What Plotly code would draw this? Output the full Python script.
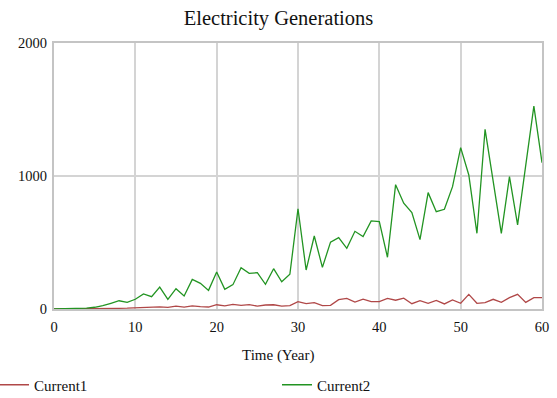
import plotly.graph_objects as go

years = list(range(0, 61))

current1 = [0, 0, 0, 1, 1, 2, 3, 4, 5, 6,
            8, 10, 9, 16, 12, 22, 14, 24, 18, 15,
            32, 24, 35, 28, 33, 22, 30, 32, 22, 26,
            55, 40, 48, 25, 28, 70, 80, 52, 74, 55,
            55, 80, 66, 82, 40, 63, 43, 65, 38, 68,
            43, 110, 43, 48, 73, 50, 85, 110, 50, 85,
            85]

current2 = [0, 1, 2, 4, 7, 13, 25, 43, 62, 50,
            73, 113, 93, 165, 73, 153, 98, 223, 193, 140,
            278, 148, 183, 310, 268, 273, 186, 303, 205, 261,
            754, 293, 549, 313, 503, 536, 456, 584, 544, 662,
            657, 389, 935, 795, 725, 522, 875, 732, 750, 920,
            1213, 1008, 569, 1351, 962, 569, 995, 632, 1080, 1526,
            1100]

x_ticks = [0, 10, 20, 30, 40, 50, 60]
y_ticks = [0, 1000, 2000]

serif = "Liberation Serif, Times New Roman, serif"
W, H = 557, 398
L, PW = 54, 488

fig = go.Figure()
fig.add_trace(go.Scatter(x=years, y=current1, mode="lines", name="Current1",
                         line=dict(color="#b04848", width=1.3), legend="legend"))
fig.add_trace(go.Scatter(x=years, y=current2, mode="lines", name="Current2",
                         line=dict(color="#229422", width=1.3), legend="legend2"))

legend_common = dict(orientation="h", xref="paper", yref="container",
                     xanchor="left", yanchor="middle", y=1 - 385 / H,
                     font=dict(family=serif, size=15, color="#111111"),
                     bgcolor="rgba(0,0,0,0)", borderwidth=0)

fig.update_layout(
    width=W, height=H,
    margin=dict(l=L, r=15, t=43, b=89, autoexpand=False),
    paper_bgcolor="white", plot_bgcolor="white",
    font=dict(family=serif, size=14, color="#111111"),
    title=dict(text="Electricity Generations", x=0.5, xref="container",
               xanchor="center", y=1 - 18 / H, yref="container", yanchor="middle",
               font=dict(family=serif, size=20.5, color="#111111")),
    showlegend=True,
    legend=dict(x=(-6 - L) / PW, **legend_common),
    legend2=dict(x=(277 - L) / PW, **legend_common),
    annotations=[dict(text="Time (Year)", xref="paper", yref="paper",
                      x=(278.5 - L) / PW, y=-0.173, xanchor="center", yanchor="middle",
                      showarrow=False, font=dict(family=serif, size=15, color="#111111"))],
)

fig.update_xaxes(range=[0, 60], tickvals=x_ticks, ticktext=[str(v) for v in x_ticks],
                 showgrid=True, gridcolor="#d4d4d4", gridwidth=1.5,
                 showline=True, linecolor="#c4c4c4", linewidth=2, mirror=True,
                 zeroline=False, ticks="outside", ticklen=4, tickcolor="rgba(0,0,0,0)",
                 tickfont=dict(size=14.5), automargin=False)
fig.update_yaxes(range=[0, 2000], tickvals=y_ticks, ticktext=[str(v) for v in y_ticks],
                 showgrid=True, gridcolor="#d4d4d4", gridwidth=1.5,
                 showline=True, linecolor="#c4c4c4", linewidth=2, mirror=True,
                 zeroline=False, ticks="outside", ticklen=2, tickcolor="rgba(0,0,0,0)",
                 tickfont=dict(size=14.5), automargin=False)

fig.write_html("out.html", config={"displayModeBar": False},
               post_script="document.body.style.margin='0';")
